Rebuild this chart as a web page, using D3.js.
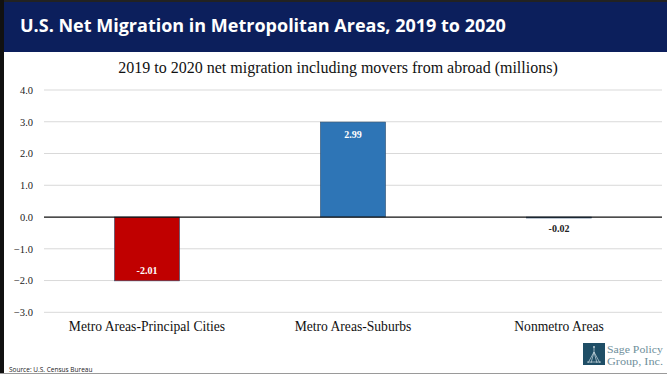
<!DOCTYPE html>
<html>
<head>
<meta charset="utf-8">
<script src="https://cdn.jsdelivr.net/npm/d3@7"></script>
<style>
  html, body { margin: 0; padding: 0; background: #fff; }
  svg { display: block; }
</style>
</head>
<body>
<svg id="chart" width="667" height="375"></svg>
<script>
// Net migration by area type, 2019 to 2020 (millions)
const categories = ["Metro Areas-Principal Cities", "Metro Areas-Suburbs", "Nonmetro Areas"];
const values = [-2.01, 2.99, -0.02];
const valueLabels = ["-2.01", "2.99", "-0.02"];
const tickValues = [-3, -2, -1, 0, 1, 2, 3, 4];
const barColors = ["#c00000", "#2e75b6", "#2e75b6"];

const svg = d3.select("#chart");
const W = 667, H = 375;
const serif = "'Liberation Serif', 'DejaVu Serif', serif";
const sans = "'Open Sans', 'Liberation Sans', sans-serif";

// Header band
svg.append("rect").attr("x", 0).attr("y", 0).attr("width", W).attr("height", 2).attr("fill", "#222");
svg.append("rect").attr("x", 0).attr("y", 2).attr("width", W).attr("height", 50).attr("fill", "#0c1f5c");
svg.append("text")
  .attr("x", 20).attr("y", 32)
  .attr("fill", "#fff")
  .attr("font-family", sans)
  .attr("font-weight", 700)
  .attr("font-size", 18)
  .text("U.S. Net Migration in Metropolitan Areas, 2019 to 2020");

// Left frame edge and bottom rule
svg.append("rect").attr("x", 0).attr("y", 0).attr("width", 4).attr("height", 374).attr("fill", "#111");
svg.append("line").attr("x1", 0).attr("x2", W).attr("y1", 373.5).attr("y2", 373.5)
  .attr("stroke", "#9a9a9a").attr("stroke-width", 1);

// Chart subtitle
svg.append("text")
  .attr("x", 338).attr("y", 73)
  .attr("text-anchor", "middle")
  .attr("fill", "#111")
  .attr("font-family", serif)
  .attr("font-size", 16)
  .text("2019 to 2020 net migration including movers from abroad (millions)");

// Scales
const x = d3.scaleBand().domain(categories).range([44, 662]).paddingInner(0.684).paddingOuter(0.342);
const y = d3.scaleLinear().domain([-3, 4]).range([312.3, 90]);

// Gridlines
const grid = svg.append("g");
grid.selectAll("line").data(tickValues.filter(d => d !== 0)).join("line")
  .attr("x1", 44).attr("x2", 662)
  .attr("y1", d => y(d)).attr("y2", d => y(d))
  .attr("stroke", "#d9d9d9").attr("stroke-width", 1);

// Y axis labels
const yAxis = d3.axisLeft(y).tickValues(tickValues).tickFormat(d3.format(".1f")).tickSize(0).tickPadding(0);
const ya = svg.append("g").attr("transform", "translate(33,0)").call(yAxis);
ya.select(".domain").remove();
ya.selectAll("text")
  .attr("font-family", serif).attr("font-size", 10.5).attr("fill", "#222");

// Bars
svg.append("g").selectAll("rect").data(values).join("rect")
  .attr("x", (d, i) => x(categories[i]))
  .attr("width", x.bandwidth())
  .attr("y", d => Math.min(y(d), y(0)))
  .attr("height", d => Math.max(1, Math.abs(y(d) - y(0))))
  .attr("fill", (d, i) => barColors[i])
  .attr("stroke", (d, i) => i === 2 ? "#44607f" : "#2f4f6f")
  .attr("stroke-width", 0.6);

// Zero line
svg.append("line").attr("x1", 44).attr("x2", 662).attr("y1", y(0)).attr("y2", y(0))
  .attr("stroke", "#111").attr("stroke-width", 1.2);

// Value labels
svg.append("g").selectAll("text").data(values).join("text")
  .attr("x", (d, i) => x(categories[i]) + x.bandwidth() / 2)
  .attr("y", (d, i) => {
    if (i === 0) return y(d) - 7;
    if (i === 1) return y(d) + 16;
    return y(0) + 15;
  })
  .attr("text-anchor", "middle")
  .attr("font-family", serif)
  .attr("font-weight", 700)
  .attr("font-size", 10)
  .attr("fill", (d, i) => i === 2 ? "#222" : "#fff")
  .text((d, i) => valueLabels[i]);

// Category labels
svg.append("g").selectAll("text").data(categories).join("text")
  .attr("x", d => x(d) + x.bandwidth() / 2)
  .attr("y", 331)
  .attr("text-anchor", "middle")
  .attr("font-family", serif)
  .attr("font-size", 13.6)
  .attr("fill", "#111")
  .text(d => d);

// Source note
svg.append("text")
  .attr("x", 9).attr("y", 372)
  .attr("font-family", sans).attr("font-size", 6.5).attr("fill", "#222")
  .text("Source: U.S. Census Bureau");

// Logo mark
const logo = svg.append("g");
logo.append("rect").attr("x", 583).attr("y", 343).attr("width", 22).attr("height", 22).attr("fill", "#1f4e66");
logo.append("path")
  .attr("d", "M594,348 L594,352 M594,352 L588,363 M594,352 L600,363 M594,352 L591,363 M594,352 L597,363 M587,362 L601,362")
  .attr("stroke", "#c9d9df").attr("stroke-width", 0.7).attr("fill", "none");
logo.append("circle").attr("cx", 594).attr("cy", 347).attr("r", 1).attr("fill", "#c9d9df");
logo.append("text").attr("x", 607).attr("y", 353)
  .attr("font-family", serif).attr("font-size", 11).attr("fill", "#6f8f9b")
  .attr("textLength", 56).attr("lengthAdjust", "spacingAndGlyphs").text("Sage Policy");
logo.append("text").attr("x", 607).attr("y", 365)
  .attr("font-family", serif).attr("font-size", 11).attr("fill", "#6f8f9b")
  .attr("textLength", 56).attr("lengthAdjust", "spacingAndGlyphs").text("Group, Inc.");
</script>
</body>
</html>
